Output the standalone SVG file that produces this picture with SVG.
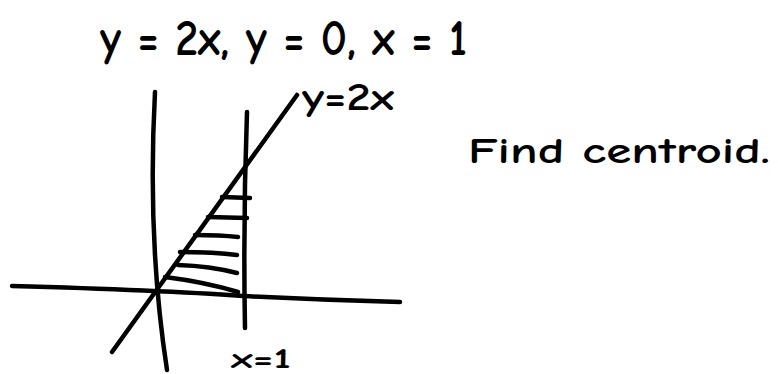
<svg xmlns="http://www.w3.org/2000/svg" width="778" height="374" viewBox="0 0 778 374">
<style>
.s{fill:none;stroke:#000;stroke-width:4.5;stroke-linecap:round;stroke-linejoin:round}
.t{font-family:"Comic Neue","Liberation Sans",sans-serif;font-weight:bold;fill:#000}
</style>
<rect width="778" height="374" fill="#fff"/>
<g id="title"><text class="t" x="100" y="55" font-size="50" textLength="367" lengthAdjust="spacingAndGlyphs">y = 2x, y = 0, x = 1</text></g>
<g id="connectors">
<path id="y-axis" class="s" d="M155,92 Q147,240 167,370"/>
<path id="x-axis" class="s" d="M12,286 Q160,290 243,296 Q320,300 400,302"/>
<path id="line-x1" class="s" d="M247,112 Q243,220 245,328"/>
<path id="line-y2x" class="s" d="M112,352 L297,95"/>
<g id="hatch">
<path class="s" d="M222,197 L250,198"/>
<path class="s" d="M208,217 L247,218"/>
<path class="s" d="M195,235 Q220,235 238,237"/>
<path class="s" d="M180,252 Q215,252 237,255"/>
<path class="s" d="M178,265 Q210,266 237,273"/>
<path class="s" d="M165,277 Q205,282 238,292"/>
</g>
</g>
<g id="label-y2x"><text class="t" x="302" y="110" font-size="38" textLength="92" lengthAdjust="spacingAndGlyphs">y=2x</text></g>
<g id="label-x1"><text class="t" x="231" y="368" font-size="28" textLength="60" lengthAdjust="spacingAndGlyphs">x=1</text></g>
<g id="note"><text class="t" x="468" y="163" font-size="36" textLength="302" lengthAdjust="spacingAndGlyphs">Find centroid.</text></g>
</svg>
